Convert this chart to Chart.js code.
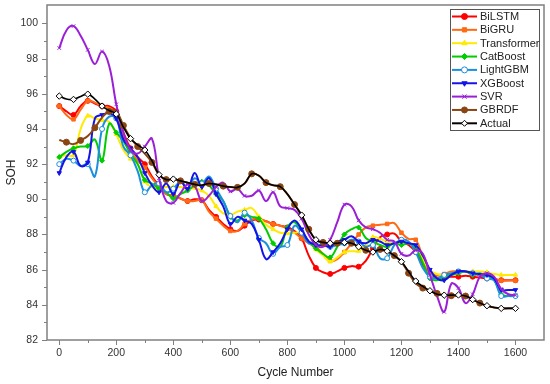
<!DOCTYPE html>
<html>
<head>
<meta charset="UTF-8">
<title>SOH prediction</title>
<script src="https://cdn.jsdelivr.net/npm/chart.js"></script>
<style>
  body { margin: 0; background: #fff; }
</style>
</head>
<body>
<canvas id="sohChart" width="550" height="384"></canvas>
<script>
// cycle grid (every 25 cycles)
const cycles = [];
for (let c = 0; c <= 1600; c += 25) cycles.push(c);

const xTicks = [0, 200, 400, 600, 800, 1000, 1200, 1400, 1600];
const yTicks = [82, 84, 86, 88, 90, 92, 94, 96, 98, 100];

const bilstm = [
  95.3, 95.0, 94.8, 95.3, 95.6, 95.45, 95.3, 95.3,
  95.0, 93.8, 92.9, 92.4, 92.0, 91.3, 90.8, 90.3,
  90.2, 90.05, 89.9, 90.0, 89.95, 89.4, 89.0, 88.6,
  88.3, 88.2, 88.5, 88.8, 88.85, 88.75, 88.6, 88.5,
  88.4, 88.2, 87.78, 86.8, 86.1, 85.85, 85.76, 85.9,
  86.1, 86.2, 86.17, 86.5, 87.2, 87.85, 88.0, 88.05,
  87.6, 87.4, 87.0, 86.3, 85.7, 85.55, 85.6, 85.6,
  85.6, 85.65, 85.6, 85.55, 85.5, 85.45, 85.4, 85.4,
  85.4
];
const bigru = [
  95.3, 94.8, 94.55, 95.1, 95.6, 95.5, 95.3, 95.2,
  94.9, 93.6, 92.8, 92.2, 91.8, 91.2, 90.7, 90.3,
  90.2, 90.05, 89.9, 89.9, 89.95, 89.3, 88.9, 88.5,
  88.2, 88.2, 88.6, 88.85, 88.9, 88.75, 88.6, 88.5,
  88.35, 88.1, 87.78, 87.5, 87.3, 86.9, 86.5, 86.6,
  87.0, 87.5, 88.0, 88.4, 88.5, 88.55, 88.6, 88.65,
  88.1, 87.75, 87.7, 86.7, 85.8, 85.7, 85.75, 85.9,
  85.9, 85.9, 85.8, 85.65, 85.6, 85.5, 85.38, 85.38,
  85.38
];
const transformer = [
  92.4, 92.5, 92.5, 94.0, 94.75, 94.6, 94.5, 94.4,
  93.7, 92.8, 92.3, 92.0, 91.0, 90.7, 90.6, 90.7,
  90.7, 90.7, 90.65, 90.6, 90.5, 90.2, 89.6, 89.2,
  89.1, 89.3, 89.4, 89.5, 89.0, 88.55, 88.3, 88.1,
  88.07, 88.1, 88.1, 87.6, 87.15, 86.8, 86.46, 86.7,
  87.0, 87.05, 87.06, 87.4, 87.85, 87.75, 87.6, 87.5,
  87.5, 87.5, 87.2, 86.6, 85.95, 85.75, 85.7, 85.8,
  85.85, 85.9, 85.9, 85.9, 85.85, 85.75, 85.7, 85.7,
  85.7
];
const catboost = [
  92.4, 92.7, 92.9, 93.0, 93.03, 93.4, 92.2, 94.3,
  93.8, 93.3, 92.6, 92.0, 91.1, 90.9, 90.6, 90.4,
  90.05, 90.3, 90.5, 90.8, 91.0, 90.8, 90.3, 89.9,
  89.0, 88.8, 89.1, 89.0, 88.9, 88.3, 87.5, 87.3,
  88.4, 88.7, 88.2, 87.6, 87.2, 86.9, 86.7, 87.3,
  88.0, 88.3, 88.4, 87.8, 87.6, 87.4, 87.3, 87.5,
  87.4, 87.5, 87.2, 86.4, 85.5, 85.4, 85.6, 85.7,
  85.8, 85.9, 85.7, 85.8, 85.6, 85.4, 84.6, 84.5,
  84.5
];
const lightgbm = [
  92.0, 92.3, 92.2, 91.9, 92.0, 91.3, 94.0, 94.7,
  94.6, 93.0, 92.5, 91.6, 90.4, 90.8, 90.9, 90.4,
  90.6, 91.0, 90.7, 91.2, 90.9, 91.3, 90.6, 89.9,
  89.05, 88.7, 89.24, 88.8, 87.8, 87.5, 86.9, 87.3,
  87.4, 88.5, 88.1, 87.5, 87.6, 87.5, 87.3, 87.4,
  87.5, 87.7, 87.6, 87.3, 87.4, 86.65, 86.65, 87.4,
  87.7, 87.6, 87.0, 86.1, 85.6, 85.5, 85.7, 85.8,
  85.9, 85.9, 85.8, 85.7, 85.5, 85.4, 84.5, 84.5,
  84.5
];
const xgboost = [
  91.5, 92.4, 92.7, 91.9, 92.1, 94.6, 94.8, 94.9,
  94.6, 93.4, 92.9, 92.4, 91.5, 90.8, 90.4, 90.9,
  90.3, 91.0, 90.6, 91.5, 90.7, 91.2, 90.3, 89.6,
  88.6, 89.0, 88.8, 88.6, 87.7, 86.6, 87.0, 87.5,
  88.3, 88.8, 88.3, 87.6, 87.4, 87.4, 87.3, 87.6,
  87.7, 87.9, 87.6, 87.5, 87.7, 87.6, 87.4, 87.5,
  87.6, 87.5, 87.4, 86.8, 86.0, 85.5, 85.4, 85.7,
  85.9, 85.9, 85.8, 85.75, 85.7, 85.5, 84.85, 84.85,
  84.85
];
const svr = [
  98.6, 99.6, 99.85, 99.3, 98.5, 97.7, 98.4, 97.6,
  95.4, 93.8, 92.8, 92.6, 93.0, 93.45, 91.2, 89.9,
  89.8, 90.35, 90.85, 90.75, 89.9, 90.2, 90.7, 90.95,
  90.45, 90.6, 90.2, 90.2, 90.5, 89.9, 90.4, 89.6,
  89.5, 89.4, 88.9, 88.0, 87.4, 87.3, 87.7, 88.7,
  89.7, 89.6, 88.8, 88.4, 88.3, 88.1, 87.7, 87.6,
  86.9, 86.8, 87.1, 86.9, 85.7, 84.5, 83.6, 85.2,
  84.95, 84.1, 84.6, 85.6, 85.8, 85.6, 84.9, 84.6,
  84.55
];
const gbrdf = [
  93.37, 93.25, 93.14, 93.35, 93.6, 94.07, 94.65, 95.0,
  95.0, 94.2, 93.5, 93.0, 92.6, 92.1, 91.4, 91.12,
  91.15, 91.05, 90.95, 90.85, 90.8, 90.9, 90.85, 90.75,
  90.7, 90.68, 90.9, 91.45, 91.35, 90.95, 90.8, 90.72,
  90.3, 89.7, 89.1, 88.3, 87.7, 87.55, 87.5, 87.5,
  87.55, 87.5, 87.3, 87.1, 87.0, 87.15, 87.05, 86.8,
  86.45, 85.8, 85.23, 84.95, 84.8, 84.65, 84.55, 84.52,
  84.5, 84.5, 84.3, 84.1, 83.95, 83.85, 83.8, 83.8,
  83.8
];
const actual = [
  95.87, 95.7, 95.68, 95.85, 95.98, 95.7, 95.3, 95.05,
  94.85, 94.1, 93.45, 93.1, 92.8, 92.2, 91.4, 91.12,
  91.15, 91.05, 90.95, 90.85, 90.8, 90.9, 90.85, 90.75,
  90.7, 90.68, 90.9, 91.45, 91.35, 90.95, 90.8, 90.72,
  90.3, 89.7, 89.1, 88.3, 87.7, 87.55, 87.5, 87.5,
  87.55, 87.5, 87.3, 87.1, 87.0, 87.15, 87.05, 86.8,
  86.45, 85.9, 85.35, 85.05, 84.8, 84.6, 84.55, 84.55,
  84.56, 84.5, 84.3, 84.1, 83.95, 83.85, 83.8, 83.8,
  83.8
];

// marker every other point, optionally skipped over a cycle range
function every(phase, size, skipFrom, skipTo) {
  return function (ctx) {
    const c = cycles[ctx.dataIndex];
    if (skipFrom !== undefined && c > skipFrom && c < skipTo) return 0;
    return ctx.dataIndex % 2 === phase ? size : 0;
  };
}

let drawOrder = 9;
function series(label, values, color, style, opts) {
  opts = opts || {};
  drawOrder -= 1; // later series are drawn on top
  return {
    label: label,
    order: drawOrder,
    data: cycles.map((c, i) => ({ x: c, y: values[i] })),
    borderColor: color,
    backgroundColor: color,
    borderWidth: opts.width || 2,
    pointStyle: style,
    pointRotation: opts.rotation || 0,
    pointRadius: opts.radius || every(0, 2.5),
    pointBackgroundColor: opts.hollow ? '#fff' : color,
    pointBorderColor: color,
    pointBorderWidth: 1,
    tension: 0.4,
    fill: false
  };
}

const legendBox = {
  id: 'legendBox',
  afterDraw(chart) {
    const { ctx, chartArea: a } = chart;
    const w = 89, h = 121;
    const left = a.right - 5 - w, top = a.top + 4;
    ctx.save();
    ctx.fillStyle = '#fff';
    ctx.fillRect(left, top, w, h);
    ctx.strokeStyle = '#555';
    ctx.lineWidth = 1;
    ctx.strokeRect(left + 0.5, top + 0.5, w, h);
    ctx.font = '11px "Liberation Sans", Arial, sans-serif';
    ctx.textBaseline = 'middle';
    chart.data.datasets.forEach((ds, i) => {
      const y = top + 7.5 + i * 13.35;
      ctx.strokeStyle = ds.borderColor;
      ctx.lineWidth = 2;
      ctx.beginPath();
      ctx.moveTo(left + 2, y);
      ctx.lineTo(left + 27, y);
      ctx.stroke();
      ctx.fillStyle = ds.pointBackgroundColor;
      ctx.strokeStyle = ds.pointBorderColor;
      ctx.lineWidth = 1;
      Chart.helpers.drawPoint(ctx, {
        pointStyle: ds.pointStyle, radius: 3, rotation: ds.pointRotation, borderWidth: 1
      }, left + 14.5, y);
      ctx.fillStyle = '#222';
      ctx.fillText(ds.label, left + 30, y + 0.5);
    });
    ctx.restore();
  }
};

const frame = {
  id: 'frame',
  afterDraw(chart) {
    const { ctx, chartArea: a, scales: { x, y } } = chart;
    ctx.save();
    ctx.strokeStyle = '#808080';
    ctx.lineWidth = 1.5;
    ctx.strokeRect(a.left, a.top, a.right - a.left, a.bottom - a.top);
    ctx.lineWidth = 1;
    ctx.beginPath();
    for (let v = 0; v <= 1600; v += 100) {
      const px = Math.round(x.getPixelForValue(v)) + 0.5;
      ctx.moveTo(px, a.bottom);
      ctx.lineTo(px, a.bottom + (v % 200 ? 3 : 5));
    }
    for (let v = 82; v <= 100; v += 1) {
      const py = Math.round(y.getPixelForValue(v)) + 0.5;
      ctx.moveTo(a.left, py);
      ctx.lineTo(a.left - (v % 2 ? 3 : 5), py);
    }
    ctx.stroke();
    ctx.restore();
  }
};

const tickFont = { family: '"Liberation Sans", Arial, sans-serif', size: 10.5 };
const titleFont = { family: '"Liberation Sans", Arial, sans-serif', size: 12 };

new Chart(document.getElementById('sohChart'), {
  type: 'line',
  data: {
    datasets: [
      series('BiLSTM', bilstm, '#ff0000', 'circle'),
      series('BiGRU', bigru, '#ff6a13', 'rect'),
      series('Transformer', transformer, '#ffea00', 'triangle'),
      series('CatBoost', catboost, '#00cc00', 'rectRot'),
      series('LightGBM', lightgbm, '#1a8fe0', 'circle', { hollow: true }),
      series('XGBoost', xgboost, '#1414e6', 'triangle', { rotation: 180 }),
      series('SVR', svr, '#9b1fd6', 'crossRot'),
      series('GBRDF', gbrdf, '#8b4513', 'circle', { radius: every(1, 3, 1500, 1700) }),
      series('Actual', actual, '#000000', 'rectRot', { hollow: true, width: 1.6, radius: every(0, 3.2, 420, 830) })
    ]
  },
  options: {
    responsive: false,
    animation: false,
    layout: { padding: { top: 5, right: 6, left: 0, bottom: 0 } },
    plugins: { legend: { display: false }, tooltip: { enabled: false } },
    scales: {
      x: {
        type: 'linear',
        min: -43,
        max: 1700,
        afterBuildTicks: s => { s.ticks = xTicks.map(v => ({ value: v })); },
        afterFit: s => { s.height = 44; s.paddingLeft = 0; s.paddingRight = 0; },
        grid: { display: false, drawTicks: false },
        border: { display: false },
        ticks: { font: tickFont, color: '#333', padding: 7, maxRotation: 0, callback: v => String(v) },
        title: { display: true, text: 'Cycle Number', font: titleFont, color: '#222' }
      },
      y: {
        type: 'linear',
        min: 82,
        max: 101.05,
        afterBuildTicks: s => { s.ticks = yTicks.map(v => ({ value: v })); },
        afterFit: s => { s.width = 47; s.paddingTop = 0; s.paddingBottom = 0; },
        grid: { display: false, drawTicks: false },
        border: { display: false },
        ticks: { font: tickFont, color: '#333', padding: 9, callback: v => String(v) },
        title: { display: true, text: 'SOH', font: titleFont, color: '#222' }
      }
    }
  },
  plugins: [frame, legendBox]
});
</script>
</body>
</html>
